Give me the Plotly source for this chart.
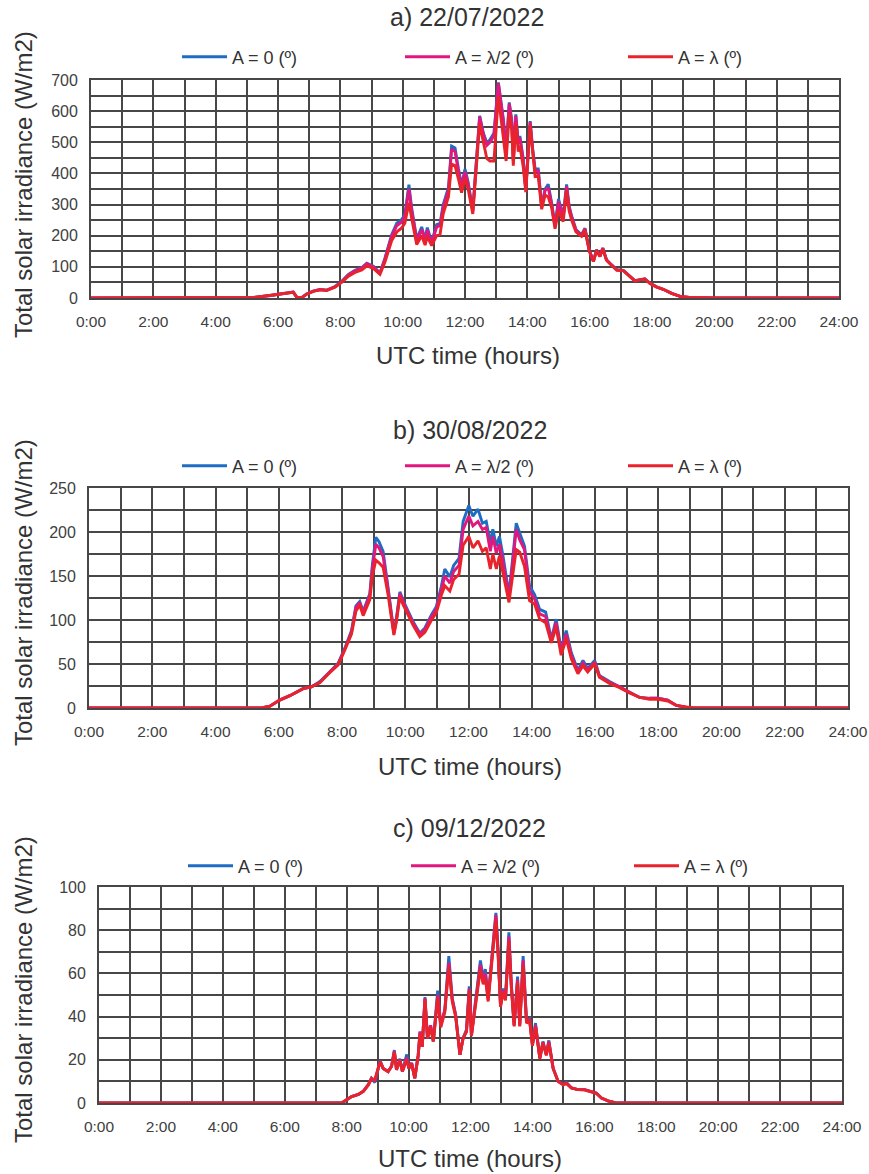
import plotly.graph_objects as go

# ---------------- data ----------------
series_names = ["A = 0 (º)", "A = λ/2 (º)", "A = λ (º)"]
series_colors = ["#1F6DC2", "#E2177E", "#E8232B"]
panel_titles = ["a) 22/07/2022", "b) 30/08/2022", "c) 09/12/2022"]

hour_ticks = list(range(25))
hour_labels = [f"{h}:00" if h % 2 == 0 else "" for h in hour_ticks]

# Panel a) 22/07/2022
t_a = [0, 4.8, 5.21, 5.74, 6.17, 6.49, 6.6, 6.76, 6.92, 7.13, 7.35, 7.56, 7.83, 8.04, 8.26, 8.47,
       8.69, 8.85, 9.06, 9.27, 9.43, 9.65, 9.81, 9.97, 10.07, 10.2, 10.29, 10.45, 10.61, 10.72,
       10.79, 10.93, 11.09, 11.2, 11.3, 11.47, 11.57, 11.68, 11.79, 11.89, 12.0, 12.1, 12.25,
       12.37, 12.47, 12.59, 12.7, 12.8, 12.93, 13.07, 13.14, 13.23, 13.32, 13.42, 13.5, 13.55,
       13.63, 13.71, 13.76, 13.87, 13.95, 14.09, 14.17, 14.25, 14.35, 14.46, 14.57, 14.67, 14.78,
       14.89, 15.0, 15.15, 15.26, 15.34, 15.42, 15.56, 15.74, 15.85, 15.99, 16.12, 16.22, 16.33,
       16.42, 16.54, 16.7, 16.87, 17.08, 17.24, 17.45, 17.61, 17.77, 17.93, 18.15, 18.36, 18.63,
       18.9, 19.2, 19.65, 20.0, 24]
a_A0 = [0, 0, 1.5, 8, 15, 19, 3, 1, 13, 22, 27, 25, 37, 53, 76, 89,
        98, 112, 102, 80, 128, 204, 240, 252, 268, 364, 288, 190, 228, 188,
        226, 180, 236, 240, 300, 355, 488, 482, 415, 362, 414, 372, 282,
        458, 585, 530, 498, 508, 530, 692, 638, 575, 478, 628, 572, 446,
        590, 500, 520, 446, 350, 568, 480, 414, 414, 296, 350, 365, 306,
        232, 318, 264, 365, 296, 264, 220, 203, 224, 153, 118, 155, 135,
        161, 123, 107, 91, 89, 75, 56, 59, 62, 48, 36, 28, 15,
        5, 2, 1, 0, 0]
a_Ahalf = [0, 0, 1.5, 8, 15, 19, 3, 1, 13, 22, 27, 25, 36, 52, 74, 87,
           96, 110, 100, 79, 124, 198, 232, 244, 262, 350, 280, 185, 220, 183,
           218, 176, 228, 232, 290, 345, 478, 470, 405, 355, 405, 365, 278,
           450, 582, 525, 490, 500, 522, 690, 632, 568, 472, 624, 565, 440,
           585, 495, 515, 440, 348, 565, 475, 408, 408, 292, 345, 355, 300,
           228, 310, 258, 358, 292, 260, 217, 201, 222, 152, 118, 154, 134,
           160, 122, 106, 90, 88, 74, 55, 58, 61, 47, 35, 28, 15,
           5, 2, 1, 0, 0]
a_Afull = [0, 0, 1.5, 8, 14, 18, 3, 1, 12, 21, 26, 24, 35, 50, 70, 82,
           90, 103, 95, 76, 115, 185, 212, 225, 240, 306, 255, 172, 200, 170,
           198, 168, 200, 205, 270, 325, 430, 425, 382, 338, 385, 350, 270,
           430, 560, 500, 448, 440, 440, 648, 592, 518, 440, 592, 540, 425,
           560, 470, 490, 420, 340, 555, 460, 390, 392, 285, 330, 325, 290,
           222, 282, 245, 345, 280, 250, 212, 198, 218, 150, 117, 152, 133,
           158, 121, 105, 89, 88, 74, 55, 58, 61, 47, 35, 28, 15,
           5, 2, 1, 0, 0]

# Panel b) 30/08/2022
t_b = [0, 5.45, 5.72, 6.03, 6.35, 6.77, 7.03, 7.3, 7.61, 7.88, 8.09, 8.3, 8.44, 8.56, 8.67, 8.77,
       8.88, 8.96, 9.07, 9.17, 9.3, 9.46, 9.64, 9.72, 9.83, 9.95, 10.09, 10.25, 10.46, 10.62,
       10.83, 10.98, 11.14, 11.25, 11.41, 11.53, 11.7, 11.83, 12.01, 12.14, 12.3, 12.44, 12.56,
       12.69, 12.77, 12.88, 12.98, 13.09, 13.28, 13.51, 13.62, 13.77, 13.93, 14.09, 14.25, 14.44,
       14.62, 14.77, 14.93, 15.09, 15.25, 15.46, 15.62, 15.77, 15.99, 16.14, 16.46, 16.78, 17.09,
       17.41, 17.72, 17.99, 18.3, 18.57, 18.85, 19.1, 24]
b_A0 = [0, 0, 2, 9, 14, 22, 24, 30, 41, 51, 68, 88, 116, 121, 110, 119,
        130, 163, 194, 189, 178, 136, 86, 102, 132, 121, 110, 98, 85, 91,
        106, 115, 138, 158, 149, 162, 170, 212, 230, 218, 226, 210, 212,
        188, 203, 184, 195, 173, 129, 210, 199, 184, 139, 129, 112, 109,
        78, 101, 67, 88, 63, 43, 54, 45, 54, 37, 30, 24, 18,
        12, 11, 11, 9, 3, 1, 0, 0]
b_Ahalf = [0, 0, 2, 9, 14, 22, 24, 29, 41, 50, 67, 86, 114, 120, 108, 117,
           128, 158, 186, 182, 172, 133, 85, 100, 130, 119, 108, 96, 84, 89,
           104, 112, 134, 150, 142, 155, 162, 203, 218, 207, 212, 203, 205,
           178, 195, 176, 186, 166, 124, 203, 191, 180, 132, 124, 107, 104,
           76, 97, 64, 84, 60, 41, 51, 43, 52, 36, 29, 24, 18,
           12, 11, 11, 9, 3, 1, 0, 0]
b_Afull = [0, 0, 2, 9, 14, 22, 24, 29, 40, 49, 66, 84, 110, 117, 105, 113,
           123, 150, 168, 165, 160, 128, 83, 98, 126, 116, 105, 94, 81, 86,
           100, 108, 128, 139, 133, 146, 152, 185, 195, 182, 190, 178, 182,
           158, 175, 158, 173, 152, 120, 180, 177, 161, 122, 118, 101, 97,
           74, 92, 60, 79, 56, 39, 48, 41, 50, 35, 28, 23, 17,
           12, 10, 10, 8, 3, 1, 0, 0]

# Panel c) 09/12/2022
t_c = [0, 7.84, 8.0, 8.16, 8.38, 8.54, 8.7, 8.8, 8.91, 9.08, 9.18, 9.34, 9.45, 9.54, 9.61, 9.72,
       9.8, 9.94, 10.01, 10.1, 10.2, 10.31, 10.37, 10.44, 10.53, 10.61, 10.71, 10.8, 10.94, 11.04,
       11.17, 11.3, 11.41, 11.52, 11.66, 11.76, 11.87, 11.96, 12.03, 12.17, 12.32, 12.41, 12.48,
       12.57, 12.66, 12.73, 12.82, 12.89, 12.97, 13.05, 13.13, 13.24, 13.32, 13.41, 13.52, 13.59,
       13.7, 13.81, 13.91, 14.0, 14.1, 14.24, 14.34, 14.45, 14.53, 14.67, 14.83, 14.99, 15.1,
       15.26, 15.47, 15.69, 15.9, 16.06, 16.23, 16.44, 16.7, 24]
c_A0 = [0, 0, 1.5, 3, 4, 5.5, 8.5, 11.5, 9.5, 19.5, 16, 14.6, 17, 24.5, 15.4, 20.5,
        14.6, 22.5, 16, 18.5, 11.5, 22, 33, 26, 49, 30, 36, 28.5, 52, 36,
        43, 68, 48.5, 41, 22.3, 30, 34, 54, 31.5, 48.5, 66, 57.7, 62,
        48.5, 64, 76, 88, 71.5, 45.4, 53, 48.5, 79, 55, 36, 58.5, 36,
        68, 38, 39, 27, 37, 20.8, 28.5, 22.3, 29, 16, 10, 8.5, 9.5,
        7, 6.2, 6.2, 5.4, 4.6, 2.3, 1, 0, 0]
c_Ahalf = [0, 0, 1.5, 3, 4, 5.5, 8.5, 11.4, 10.4, 19.3, 16, 14.6, 17, 24, 15.4, 20,
           14.6, 21, 16, 18.5, 11.5, 22, 33, 26, 48.5, 30, 36, 28.5, 50, 36,
           43, 65, 48, 40.5, 22.3, 30, 33, 53, 31.5, 48, 64, 56, 60,
           48, 62, 75, 87, 70, 45, 52, 48, 77, 54, 36, 57, 36,
           66, 37.5, 38.5, 27, 36, 20.8, 28, 22.3, 28.5, 16, 10, 8.5, 9.2,
           7, 6.2, 6.2, 5.4, 4.6, 2.3, 1, 0, 0]
c_Afull = [0, 0, 1.5, 3, 4, 5.4, 8.4, 11.2, 10.8, 19, 16, 14.5, 17, 23.5, 15.4, 19.5,
           14.6, 20, 16, 18, 11.5, 22, 32, 26, 48, 30, 35, 28.5, 48.5, 35,
           42, 63, 47, 40, 22.3, 30, 33, 52, 31, 47, 62, 55, 58,
           47, 61, 74, 85, 69, 44.5, 51, 47.5, 75, 53, 35.5, 56, 35.5,
           64, 37, 38, 26.5, 35.5, 20.5, 28, 22, 28, 16, 10, 8.5, 9,
           7, 6.2, 6, 5.3, 4.5, 2.3, 1, 0, 0]

y_max = [700, 250, 100]
y_grid_step = [50, 25, 10]
y_label_step = [100, 50, 20]

panels = [
    (t_a, [a_A0, a_Ahalf, a_Afull]),
    (t_b, [b_A0, b_Ahalf, b_Afull]),
    (t_c, [c_A0, c_Ahalf, c_Afull]),
]

# ---------------- layout geometry (pixels) ----------------
W, H = 869, 1174
plot_px = [  # left, right, top, bottom
    (91, 839, 80, 298),
    (89, 848, 488, 708),
    (99, 842, 887, 1103),
]
legend_px = [(177, 57), (177, 466), (183, 866)]
title_px = [(467, 17), (470, 430), (470, 828)]
xtitle_px = [(468, 355), (470, 766), (470, 1158)]
ytitle_px = [(23, 185), (23, 593), (23, 990)]

FONT = "Liberation Sans, Arial, sans-serif"
GRID = "#474747"
TXT = "#333333"

fig = go.Figure()
layout = dict(
    width=W, height=H,
    margin=dict(l=0, r=0, t=0, b=0, autoexpand=False),
    paper_bgcolor="white", plot_bgcolor="white",
    font=dict(family=FONT, color=TXT),
    showlegend=True,
    annotations=[],
)

for i, (t, vals) in enumerate(panels):
    sfx = "" if i == 0 else str(i + 1)
    leg = "legend" if i == 0 else f"legend{i + 1}"
    for name, color, v in zip(series_names, series_colors, vals):
        fig.add_trace(go.Scatter(
            x=t, y=v, mode="lines", name=name,
            line=dict(color=color, width=2.9),
            xaxis="x" + sfx, yaxis="y" + sfx, legend=leg,
        ))
    l, r, tp, bt = plot_px[i]
    yticks = list(range(0, y_max[i] + 1, y_grid_step[i]))
    ylabels = [str(v) if v % y_label_step[i] == 0 else "" for v in yticks]
    layout["xaxis" + sfx] = dict(
        domain=[l / W, r / W], anchor="y" + sfx, range=[0, 24],
        tickmode="array", tickvals=hour_ticks, ticktext=hour_labels,
        showgrid=True, gridcolor=GRID, gridwidth=1.7,
        showline=True, linecolor=GRID, linewidth=1.8, mirror=True, zeroline=False,
        ticks="outside", ticklen=8, tickcolor="rgba(0,0,0,0)",
        tickfont=dict(size=15.5, color="#404040", family=FONT),
        ticklabeloverflow="allow",
        fixedrange=True,
    )
    layout["yaxis" + sfx] = dict(
        domain=[1 - bt / H, 1 - tp / H], anchor="x" + sfx, range=[0, y_max[i]],
        tickmode="array", tickvals=yticks, ticktext=ylabels,
        showgrid=True, gridcolor=GRID, gridwidth=1.7,
        showline=True, linecolor=GRID, linewidth=1.8, mirror=True, zeroline=False,
        ticks="outside", ticklen=8, tickcolor="rgba(0,0,0,0)",
        tickfont=dict(size=16, color="#404040", family=FONT),
        fixedrange=True,
    )
    lx, ly = legend_px[i]
    layout[leg] = dict(
        orientation="h", x=lx / W, y=1 - ly / H, xanchor="left", yanchor="middle",
        xref="paper", yref="paper",
        font=dict(size=18, color=TXT, family=FONT),
        bgcolor="rgba(0,0,0,0)", itemwidth=45,
        entrywidth=163, entrywidthmode="pixels", traceorder="normal",
    )
    tx, ty = title_px[i]
    layout["annotations"].append(dict(
        text=panel_titles[i], x=tx / W, y=1 - ty / H, xref="paper", yref="paper",
        xanchor="center", yanchor="middle", showarrow=False,
        font=dict(size=25, color=TXT, family=FONT)))
    ax, ay = xtitle_px[i]
    layout["annotations"].append(dict(
        text="UTC time (hours)", x=ax / W, y=1 - ay / H, xref="paper", yref="paper",
        xanchor="center", yanchor="middle", showarrow=False,
        font=dict(size=24, color=TXT, family=FONT)))
    yx, yy = ytitle_px[i]
    layout["annotations"].append(dict(
        text="Total solar irradiance (W/m2)", x=yx / W, y=1 - yy / H, xref="paper", yref="paper",
        xanchor="center", yanchor="middle", showarrow=False, textangle=-90,
        font=dict(size=24, color=TXT, family=FONT)))

fig.update_layout(**layout)
fig.write_html("out.html")
